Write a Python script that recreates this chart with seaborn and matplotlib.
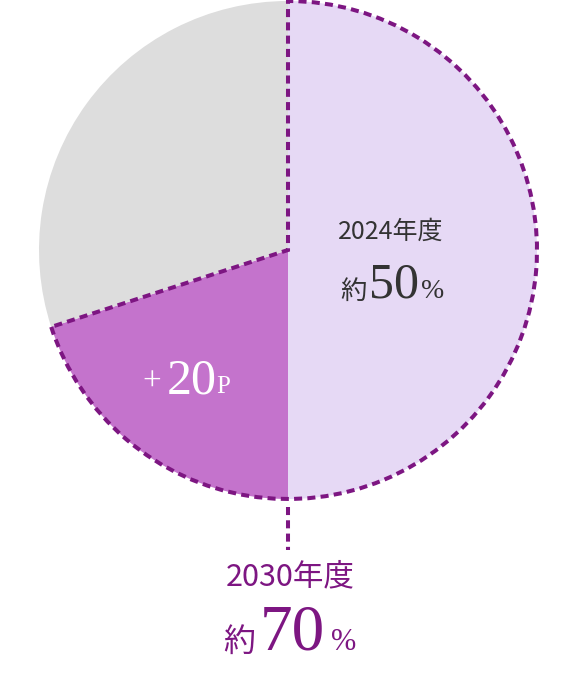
import matplotlib
matplotlib.use("Agg")
import matplotlib.pyplot as plt
import seaborn as sns
from matplotlib.patches import Wedge

# share of the 2030 target
shares = [50, 20, 30]          # 2024 level, increase, rest
slice_colors = ["#E6D9F5", "#C473CC", "#DDDDDD"]
dash_color = "#7D1682"
text_dark = "#333333"

label_2024 = "2024年度"
value_2024 = "50"
label_2030 = "2030年度"
value_2030 = "70"
gain_text = "20"

sns.set_theme(style="white")
plt.rcParams['font.family'] = ['Noto Sans CJK JP', 'DejaVu Sans']

W, H = 580, 676
fig = plt.figure(figsize=(W / 100, H / 100), dpi=100)
ax = fig.add_axes([0, 0, 1, 1])

cx, cy, r = 288, H - 250, 249

ax.pie(shares, colors=slice_colors, startangle=90, counterclock=False,
       center=(cx, cy), radius=r, frame=True,
       wedgeprops=dict(linewidth=0))
ax.set_xlim(0, W)
ax.set_ylim(0, H)
ax.set_aspect("equal")
ax.axis("off")

# dashed outline of the 2030 share (first two slices)
end_angle = 90 - 360 * (shares[0] + shares[1]) / sum(shares)
ls = (0, (2.0, 1.3))
lw = 2.9
ax.add_patch(Wedge((cx, cy), r, end_angle, 90, fill=False,
                   edgecolor=dash_color, linewidth=lw, linestyle=ls))
ax.plot([cx, cx], [cy - r - 8, H - 550], color=dash_color,
        linewidth=lw, linestyle=ls)

serif = "Liberation Serif"

def px(y):
    return H - y

# 2024 label
ax.text(391, px(232), label_2024, ha="center", va="center",
        fontsize=18, color=text_dark)
ax.text(340, px(299), "約", ha="left", va="baseline", fontsize=19, color=text_dark)
ax.text(369, px(298), value_2024, ha="left", va="baseline", fontsize=36,
        family=serif, color=text_dark)
ax.text(421, px(298), "%", ha="left", va="baseline", fontsize=20,
        family=serif, color=text_dark)

# gain label
ax.text(142, px(391), "+", ha="left", va="baseline", fontsize=24,
        family=serif, color="white")
ax.text(167, px(393), gain_text, ha="left", va="baseline", fontsize=36,
        family=serif, color="white")
ax.text(216, px(393), "P", ha="left", va="baseline", fontsize=18,
        family=serif, color="white")

# 2030 label
ax.text(290, px(577), label_2030, ha="center", va="center",
        fontsize=22, color=dash_color)
ax.text(223, px(651), "約", ha="left", va="baseline", fontsize=23, color=dash_color)
ax.text(260, px(650), value_2030, ha="left", va="baseline", fontsize=47,
        family=serif, color=dash_color)
ax.text(331, px(650), "%", ha="left", va="baseline", fontsize=22,
        family=serif, color=dash_color)

fig.savefig("out.png", dpi=100)
